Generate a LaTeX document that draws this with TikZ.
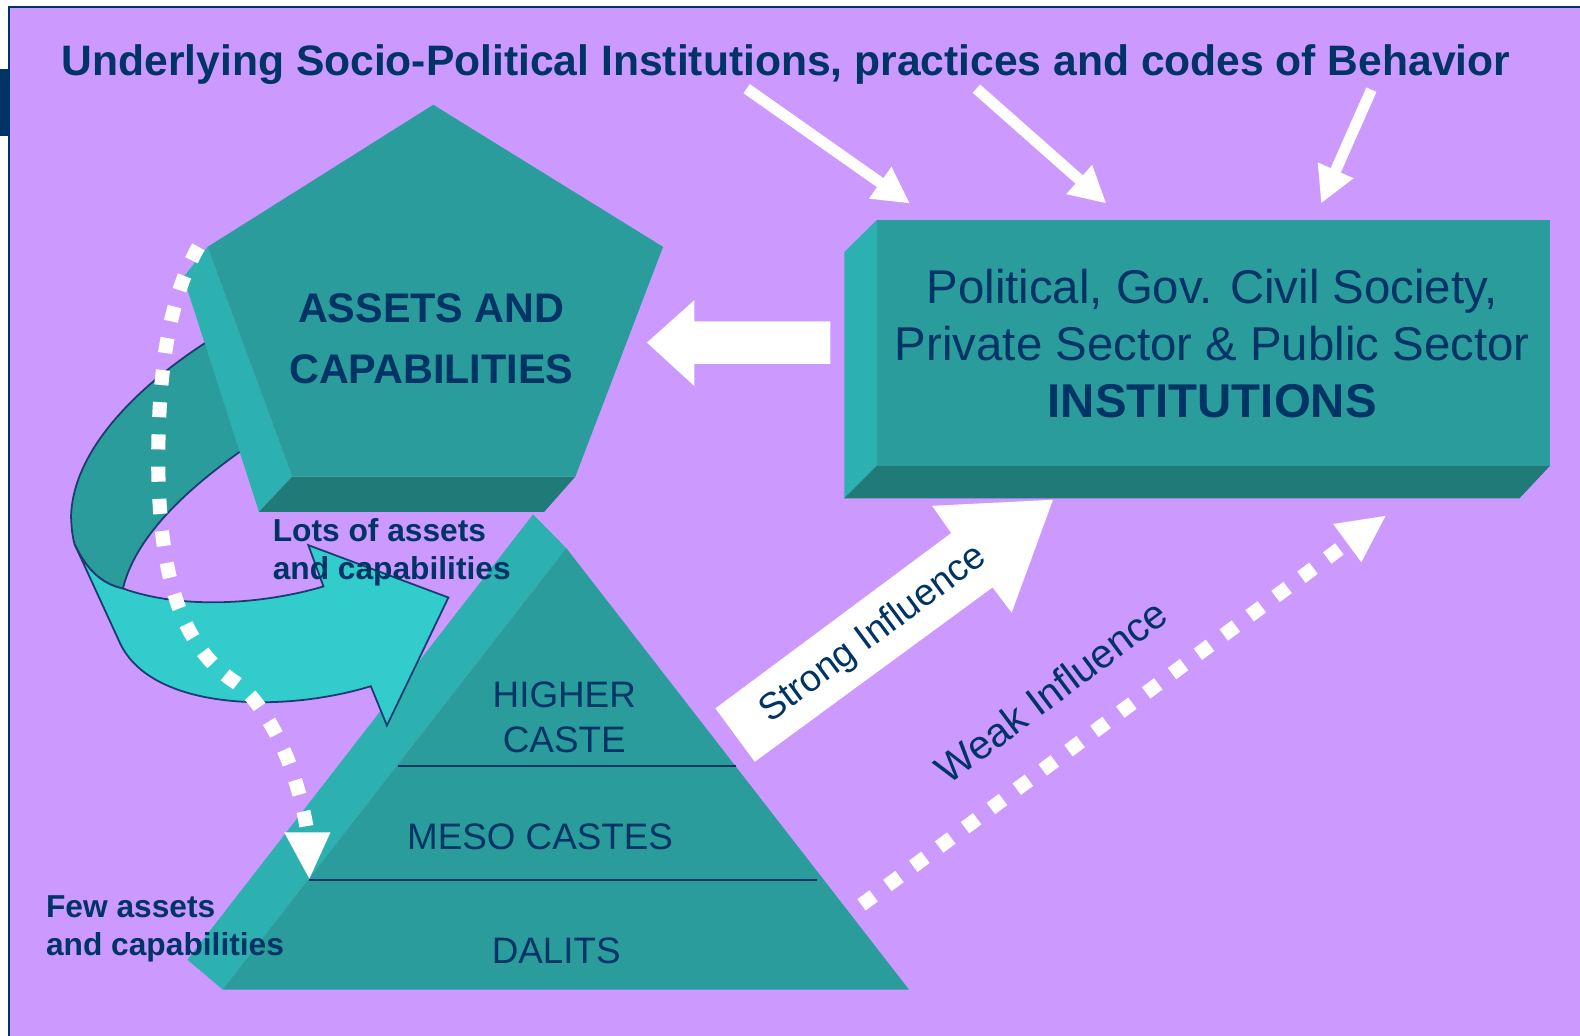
\documentclass[tikz,border=0pt]{standalone}
\usepackage{fontspec}
\setmainfont{Liberation Sans}
\usetikzlibrary{arrows.meta}

\definecolor{lavender}{HTML}{CC99FF}
\definecolor{navy}{HTML}{003366}
\definecolor{tealfront}{HTML}{299C9B}
\definecolor{tealside}{HTML}{2DB0B0}
\definecolor{tealbase}{HTML}{1F7A78}
\definecolor{ribbon}{HTML}{33CCCC}
\definecolor{ribbonline}{HTML}{1A3C6E}

\begin{document}
\begin{tikzpicture}[x=0.01cm,y=-0.01cm,
  txt/.style={text=navy,inner sep=0pt},
  thinarrow/.style={white,line width=0.11cm,-{Triangle[length=0.36cm,width=0.36cm]}},
  dotline/.style={white,line width=0.14cm,dash pattern=on 0.15cm off 0.17cm},
  ribbonedge/.style={draw=ribbonline,line width=0.5pt}]

  \useasboundingbox (0,0) rectangle (1568,1028);
  \fill[white] (0,0) rectangle (1568,1028);
  \fill[lavender] (9,7) rectangle (1568,1028);
  \draw[navy,line width=0.5pt] (9,1028) -- (9,7) -- (1568,7);
  \fill[navy] (0,68) rectangle (9,135);

  \node[txt,anchor=base,font=\fontsize{12.02}{14}\selectfont\bfseries] (title) at (780,75)
    {Underlying Socio-Political Institutions, practices and codes of Behavior};

  % arrows from the title
  \coordinate (s1) at (741,88);   \coordinate (e1) at (903,202);
  \coordinate (s2) at (969,88);   \coordinate (e2) at (1098,202);
  \coordinate (s3) at (1361,89);  \coordinate (e3) at (1311,202);
  \draw[thinarrow] (s1) -- (e1);
  \draw[thinarrow] (s2) -- (e2);
  \draw[thinarrow] (s3) -- (e3);

  % ribbon, back part
  \filldraw[ribbonedge,fill=tealfront] (212,335) .. controls (140,380) and (72,445) .. (70.5,513)
    .. controls (71,525) and (72,533) .. (74,540) .. controls (86,566) and (102,580) .. (122,584)
    .. controls (134,535) and (180,488) .. (250,440) -- cycle;

  % assets pentagon
  \fill[tealside] (206,245) -- (290,473) -- (257,508) -- (182,275) -- cycle;
  \fill[tealbase] (290,473) -- (571,473) -- (540,508) -- (257,508) -- cycle;
  \fill[tealfront] (430,104) -- (658,245) -- (571,473) -- (290,473) -- (206,245) -- cycle;
  \node[txt,align=center,font=\fontsize{11.67}{17.36}\selectfont\bfseries] (assets) at (428,336)
    {ASSETS AND\\CAPABILITIES};

  % institutions box
  \fill[tealside] (870.5,218) -- (870.5,462) -- (838,494.5) -- (838,250) -- cycle;
  \fill[tealbase] (870.5,462) -- (1538.5,462) -- (1508,494.5) -- (838,494.5) -- cycle;
  \fill[tealfront] (870.5,218) rectangle (1538.5,462);
  \node[txt,align=center,font=\fontsize{13.37}{16.2}\selectfont] (inst) at (1203,341)
    {Political, Gov. Civil Society,\\Private Sector \& Public Sector\\\textbf{INSTITUTIONS}};

  \fill[white] (824,319) -- (689,319) -- (689,298) -- (642,340) -- (689,383) -- (689,361) -- (824,361) -- cycle;

  % caste pyramid
  \fill[tealside] (529,510.5) -- (562,544) -- (221,982) -- (186,952.5) -- cycle;
  \fill[tealfront] (562,544) -- (902,982) -- (221,982) -- cycle;
  \draw[navy,line width=0.6pt] (395,760) -- (730,760);
  \draw[navy,line width=0.6pt] (307,873) -- (811,873);
  \node[txt,align=center,font=\fontsize{10.39}{12.5}\selectfont] (higher) at (560,712) {HIGHER\\CASTE};
  \node[txt,anchor=base,font=\fontsize{10.39}{12.5}\selectfont] (meso) at (536,843) {MESO CASTES};
  \node[txt,anchor=base,font=\fontsize{10.39}{12.5}\selectfont] (dalits) at (552,956) {DALITS};

  % ribbon, front part
  \filldraw[ribbonedge,fill=ribbon] (74,540) .. controls (86,566) and (102,580) .. (122,584)
    .. controls (180,605) and (260,600) .. (321,582) -- (306,541) -- (445,593) -- (384,720)
    -- (368,681) .. controls (280,708) and (150,705) .. (119,638) -- cycle;

  \node[txt,anchor=west,align=left,font=\fontsize{8.95}{10.8}\selectfont\bfseries] (lots) at (270,548)
    {Lots of assets\\and capabilities};
  \node[txt,anchor=west,align=left,font=\fontsize{8.95}{10.8}\selectfont\bfseries] (few) at (45,922)
    {Few assets\\and capabilities};

  % dotted arrow down the left
  \draw[dotline] (197,245) .. controls (165,300) and (157,380) .. (157,460)
    .. controls (158,560) and (175,640) .. (235,678) .. controls (265,700) and (295,760) .. (305,826);
  \fill[white] (282,826) -- (328,826) -- (307,872) -- cycle;

  % strong influence
  \fill[white] (710,703) -- (944,529) -- (925,502) -- (1045,496) -- (1004,608) -- (985,583) -- (749,756) -- cycle;
  \node[txt,rotate=36.6,font=\fontsize{10.55}{12}\selectfont] (strong) at (867,630) {Strong Influence};

  % weak influence
  \draw[dotline] (855,898) -- (1337,539);
  \fill[white] (1323,520) -- (1351,558) -- (1375,512) -- cycle;
  \node[txt,rotate=36.8,font=\fontsize{11.4}{13}\selectfont] (weak) at (1043,686) {Weak Influence};

\end{tikzpicture}
\end{document}
